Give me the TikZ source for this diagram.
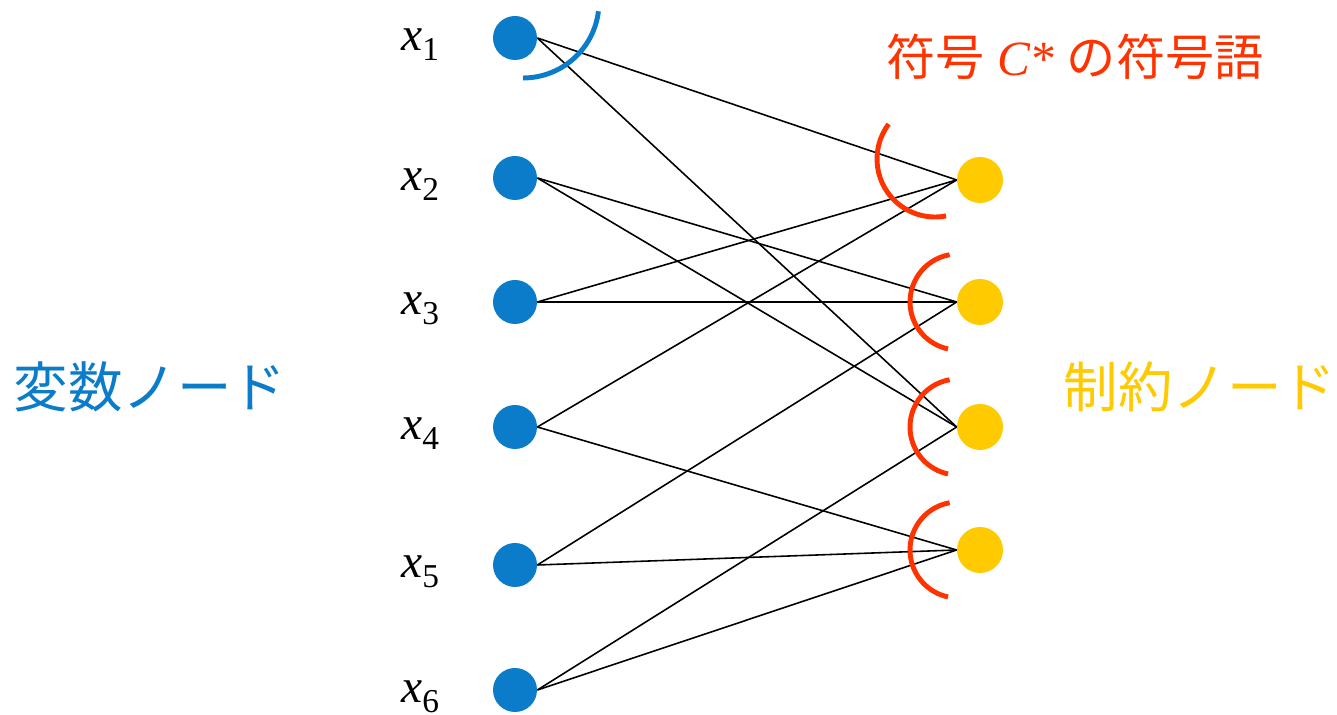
\documentclass[tikz,border=0pt]{standalone}
\usepackage{fontspec}
\setmainfont{Liberation Serif}
\newfontfamily\jpfont{Noto Sans CJK JP}
\usepackage{xcolor}
\usetikzlibrary{positioning}
\definecolor{varblue}{HTML}{0A7CC9}
\definecolor{chkyellow}{HTML}{FFCA00}
\definecolor{codered}{HTML}{FF3300}
\newcommand{\xvar}[1]{\textit{x}\raisebox{-0.45ex}{\fontsize{19}{22}\selectfont #1}}

\begin{document}
\begin{tikzpicture}[
  varnode/.style={circle, fill=varblue, minimum size=0.88cm, inner sep=0pt},
  chknode/.style={circle, fill=chkyellow, minimum size=0.92cm, inner sep=0pt},
  varlabel/.style={font=\fontsize{27}{31}\selectfont, left=0.95cm of #1, yshift=-0.14cm},
  edge/.style={line width=0.9pt},
  codearc/.style={codered, line width=2.8pt},
  blockarc/.style={varblue, line width=2.8pt},
  bigtext/.style={font=\jpfont\fontsize{31}{36}\selectfont}
]
\useasboundingbox (0,0) rectangle (26.74,14.3);
% variable nodes
\node[varnode] (v1) at (10.3,13.54) {};
\node[varnode] (v2) at (10.3,10.74) {};
\node[varnode] (v3) at (10.3,8.26) {};
\node[varnode] (v4) at (10.3,5.76) {};
\node[varnode] (v5) at (10.3,3.0) {};
\node[varnode] (v6) at (10.3,0.5) {};
\node[varlabel=v1] (l1) {\xvar{1}};
\node[varlabel=v2] (l2) {\xvar{2}};
\node[varlabel=v3] (l3) {\xvar{3}};
\node[varlabel=v4] (l4) {\xvar{4}};
\node[varlabel=v5] (l5) {\xvar{5}};
\node[varlabel=v6] (l6) {\xvar{6}};
% check nodes
\node[chknode] (c1) at (19.6,10.7) {};
\node[chknode] (c2) at (19.6,8.26) {};
\node[chknode] (c3) at (19.6,5.76) {};
\node[chknode] (c4) at (19.6,3.3) {};
% edges
\draw[edge] (v1.east) -- (c1.west);
\draw[edge] (v1.east) -- (c3.west);
\draw[edge] (v2.east) -- (c2.west);
\draw[edge] (v2.east) -- (c3.west);
\draw[edge] (v3.east) -- (c1.west);
\draw[edge] (v3.east) -- (c2.west);
\draw[edge] (v4.east) -- (c1.west);
\draw[edge] (v4.east) -- (c4.west);
\draw[edge] (v5.east) -- (c2.west);
\draw[edge] (v5.east) -- (c4.west);
\draw[edge] (v6.east) -- (c3.west);
\draw[edge] (v6.east) -- (c4.west);
% arcs
\draw[blockarc] ([shift={(0.16,0.72)}]v1.center) ++(-7:1.52) arc[start angle=-7, end angle=-90, radius=1.52];
\draw[codearc] ([shift={(-0.9,0.42)}]c1.center) ++(143:1.16) arc[start angle=143, end angle=281, radius=1.16];
\draw[codearc] ([shift={(-0.44,0)}]c2.center) ++(100:0.96) arc[start angle=100, end angle=258, radius=0.96];
\draw[codearc] ([shift={(-0.44,0)}]c3.center) ++(100:0.96) arc[start angle=100, end angle=258, radius=0.96];
\draw[codearc] ([shift={(-0.44,0)}]c4.center) ++(100:0.96) arc[start angle=100, end angle=258, radius=0.96];
% texts
\node[bigtext, text=varblue] (vartext) at (3.0,6.56) {変数ノード};
\node[bigtext, text=chkyellow] (chktext) at (24.0,6.56) {制約ノード};
\node[font=\fontsize{28}{32}\selectfont, text=codered] (codetext) at (21.5,13.16) {{\jpfont 符号} \textit{C*} {\jpfont の符号語}};
\end{tikzpicture}
\end{document}
